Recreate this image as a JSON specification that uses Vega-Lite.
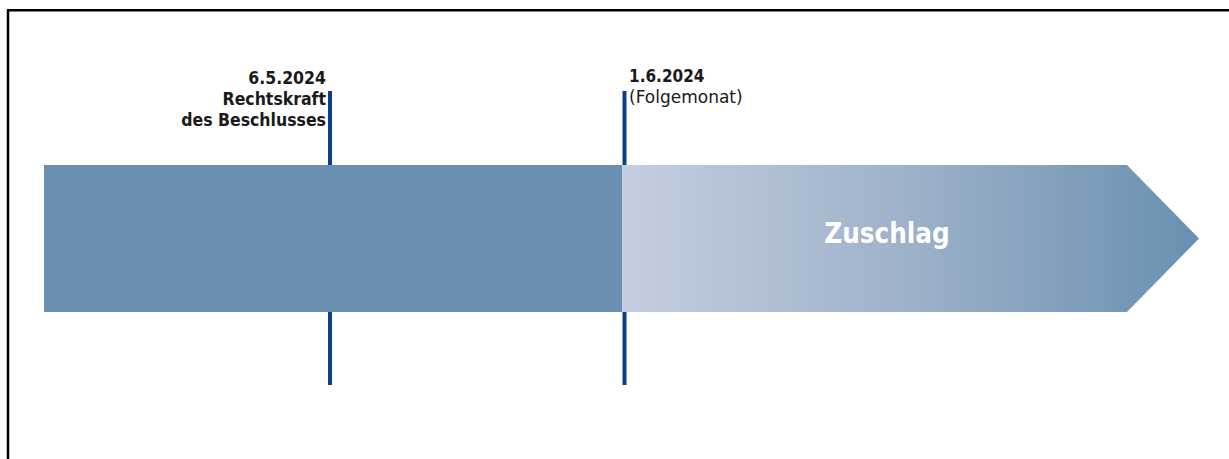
{
  "$schema": "https://vega.github.io/schema/vega-lite/v6.json",
  "autosize": "none",
  "width": 1229,
  "height": 459,
  "padding": 0,
  "background": "white",
  "config": {"view": {"stroke": null}},
  "datasets": {
    "frame": [
      {"x": 8, "x2": 1229, "y": 10.3, "y2": 10.3},
      {"x": 8, "x2": 8, "y": 9, "y2": 459}
    ],
    "markers": [
      {"date": "6.5.2024", "x": 330, "top": 91, "bottom": 385},
      {"date": "1.6.2024", "x": 624.5, "top": 91, "bottom": 385}
    ],
    "before": [
      {"phase": "bis Folgemonat", "x": 44, "x2": 622, "top": 165, "bottom": 312}
    ],
    "after": [
      {"x": 622, "top": 165, "bottom": 312},
      {"x": 1127, "top": 165, "bottom": 312},
      {"x": 1199, "top": 238.5, "bottom": 238.5}
    ],
    "labelsRightBold": [
      {"x": 326, "y": 83.5, "label": "6.5.2024"},
      {"x": 326, "y": 105, "label": "Rechtskraft"},
      {"x": 326, "y": 126, "label": "des Beschlusses"}
    ],
    "labelsLeftBold": [
      {"x": 629, "y": 82, "label": "1.6.2024"}
    ],
    "labelsLeft": [
      {"x": 629, "y": 103, "label": "(Folgemonat)"}
    ],
    "phaseLabel": [
      {"x": 887, "y": 243, "label": "Zuschlag"}
    ]
  },
  "encoding": {
    "x": {"field": "x", "type": "quantitative", "scale": {"domain": [0, 1229], "nice": false, "zero": false}, "axis": null},
    "y": {"field": "y", "type": "quantitative", "scale": {"domain": [0, 459], "nice": false, "zero": false, "reverse": true}, "axis": null}
  },
  "layer": [
    {
      "data": {"name": "frame"},
      "mark": {"type": "rule", "color": "#000000", "strokeWidth": 2.5},
      "encoding": {
        "x2": {"field": "x2"},
        "y2": {"field": "y2"}
      }
    },
    {
      "data": {"name": "markers"},
      "mark": {"type": "rule", "color": "#0b3f86", "strokeWidth": 4},
      "encoding": {
        "y": {"field": "top", "type": "quantitative"},
        "y2": {"field": "bottom"}
      }
    },
    {
      "data": {"name": "before"},
      "mark": {"type": "rect", "color": "#6990b1", "opacity": 1},
      "encoding": {
        "x2": {"field": "x2"},
        "y": {"field": "top", "type": "quantitative"},
        "y2": {"field": "bottom"}
      }
    },
    {
      "data": {"name": "after"},
      "mark": {
        "type": "area",
        "opacity": 1,
        "fill": {
          "gradient": "linear",
          "x1": 0, "x2": 1, "y1": 0, "y2": 0,
          "stops": [
            {"offset": 0, "color": "#c4cee0"},
            {"offset": 0.5, "color": "#9db1c9"},
            {"offset": 1, "color": "#6990b1"}
          ]
        }
      },
      "encoding": {
        "y": {"field": "top", "type": "quantitative"},
        "y2": {"field": "bottom"}
      }
    },
    {
      "data": {"name": "labelsRightBold"},
      "mark": {"type": "text", "align": "right", "baseline": "alphabetic", "font": "DejaVu Sans Condensed", "fontWeight": "bold", "fontSize": 17.5, "color": "#1a1a1a"},
      "encoding": {"text": {"field": "label"}}
    },
    {
      "data": {"name": "labelsLeftBold"},
      "mark": {"type": "text", "align": "left", "baseline": "alphabetic", "font": "DejaVu Sans Condensed", "fontWeight": "bold", "fontSize": 17, "color": "#1a1a1a"},
      "encoding": {"text": {"field": "label"}}
    },
    {
      "data": {"name": "labelsLeft"},
      "mark": {"type": "text", "align": "left", "baseline": "alphabetic", "font": "DejaVu Sans", "fontWeight": "normal", "fontSize": 17, "color": "#1a1a1a"},
      "encoding": {"text": {"field": "label"}}
    },
    {
      "data": {"name": "phaseLabel"},
      "mark": {"type": "text", "align": "center", "baseline": "alphabetic", "font": "DejaVu Sans Condensed", "fontWeight": "bold", "fontSize": 27.5, "color": "#ffffff"},
      "encoding": {"text": {"field": "label"}}
    }
  ]
}
